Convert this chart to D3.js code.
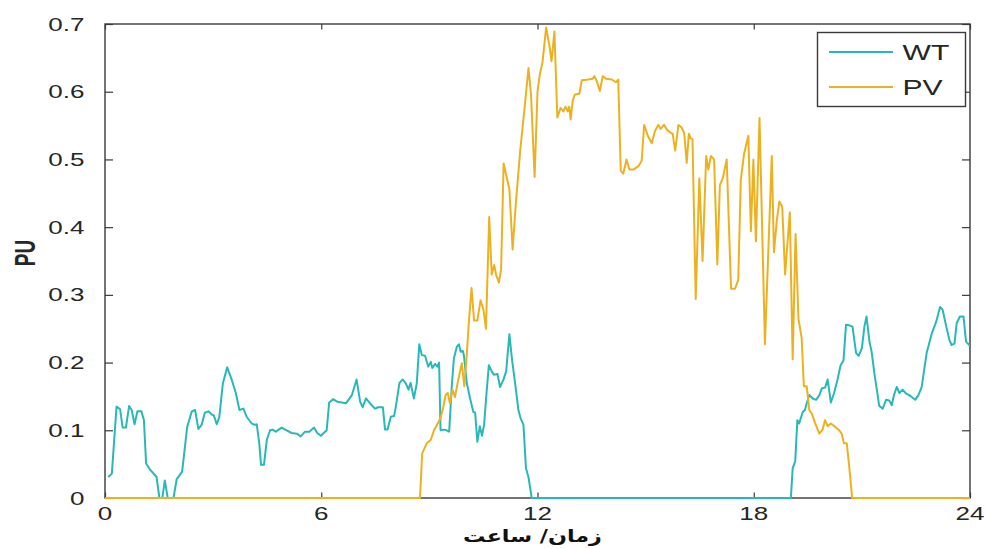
<!DOCTYPE html>
<html>
<head>
<meta charset="utf-8">
<script src="https://cdn.jsdelivr.net/npm/d3@7"></script>
<style>
  html, body { margin: 0; padding: 0; background: #fff; }
  svg { display: block; }
  text { fill: #262626; font-family: "Liberation Sans", Arial, sans-serif; }
</style>
</head>
<body>
<svg id="chart" width="986" height="549"></svg>
<script>
// Wind turbine (WT) output, per unit, over the day
const wtHours = [0.09,0.19,0.32,0.42,0.49,0.58,0.67,0.74,0.82,0.90,1.01,1.08,1.14,1.25,1.43,1.51,1.59,1.66,1.74,1.90,
  1.99,2.14,2.28,2.41,2.50,2.59,2.68,2.77,2.87,2.97,3.02,3.10,3.17,3.27,3.39,3.52,3.63,3.73,3.84,3.93,
  4.07,4.16,4.21,4.28,4.33,4.41,4.49,4.58,4.65,4.74,4.90,5.04,5.18,5.32,5.43,5.55,5.67,5.80,5.89,5.99,
  6.15,6.22,6.33,6.45,6.69,6.85,6.98,7.08,7.15,7.24,7.35,7.49,7.58,7.71,7.77,7.84,7.93,8.02,8.07,8.17,
  8.26,8.35,8.42,8.48,8.57,8.65,8.72,8.79,8.88,8.97,9.04,9.08,9.16,9.22,9.27,9.31,9.39,9.48,9.55,9.62,
  9.68,9.76,9.82,9.87,9.93,9.96,10.04,10.13,10.22,10.27,10.33,10.40,10.46,10.52,10.57,10.65,10.73,10.79,10.89,10.96,
  11.05,11.13,11.22,11.29,11.38,11.47,11.53,11.61,11.68,11.75,11.84,19.03,19.08,19.15,19.21,19.26,19.30,19.36,19.42,19.47,
  19.54,19.64,19.73,19.82,19.89,19.98,20.05,20.14,20.23,20.32,20.41,20.49,20.56,20.65,20.74,20.84,20.91,21.00,21.07,21.13,
  21.21,21.27,21.36,21.43,21.48,21.58,21.67,21.76,21.83,21.89,21.97,22.04,22.13,22.23,22.34,22.48,22.57,22.66,22.80,22.94,
  23.06,23.17,23.24,23.33,23.43,23.49,23.57,23.63,23.72,23.82,23.89,23.98,24.0];
const wtValues = [0.031,0.036,0.135,0.131,0.104,0.104,0.136,0.130,0.109,0.128,0.128,0.115,0.051,0.042,0.031,0,0,0.026,0,0,
  0.028,0.039,0.105,0.128,0.130,0.102,0.108,0.126,0.128,0.123,0.122,0.109,0.119,0.169,0.193,0.174,0.155,0.130,0.132,0.120,
  0.110,0.108,0.109,0.081,0.049,0.049,0.086,0.100,0.101,0.098,0.104,0.100,0.096,0.095,0.091,0.098,0.098,0.104,0.096,0.092,
  0.100,0.141,0.146,0.142,0.140,0.152,0.175,0.142,0.134,0.147,0.140,0.132,0.134,0.134,0.101,0.101,0.120,0.121,0.135,0.170,
  0.175,0.169,0.160,0.170,0.147,0.169,0.227,0.211,0.210,0.194,0.201,0.192,0.198,0.194,0.200,0.100,0.101,0.100,0.098,0.164,
  0.206,0.223,0.227,0.216,0.217,0.210,0.169,0.147,0.127,0.126,0.083,0.106,0.092,0.109,0.145,0.196,0.187,0.182,0.183,0.164,
  0.174,0.187,0.242,0.206,0.169,0.130,0.118,0.108,0.044,0.031,0,0,0.044,0.054,0.115,0.110,0.117,0.127,0.130,0.140,
  0.152,0.147,0.145,0.152,0.162,0.163,0.175,0.141,0.155,0.174,0.196,0.203,0.256,0.255,0.253,0.214,0.210,0.221,0.253,0.268,
  0.231,0.216,0.179,0.155,0.136,0.132,0.145,0.144,0.137,0.152,0.164,0.155,0.160,0.154,0.151,0.145,0.152,0.164,0.215,0.243,
  0.260,0.282,0.278,0.256,0.233,0.226,0.228,0.258,0.268,0.268,0.231,0.226,0.226];

// Photovoltaic (PV) output, per unit, over the day
const pvHours = [0,8.74,8.80,8.93,9.04,9.13,9.22,9.31,9.39,9.45,9.51,9.57,9.64,9.71,9.78,9.85,9.90,9.97,10.04,10.10,
  10.17,10.24,10.33,10.42,10.50,10.57,10.66,10.73,10.80,10.85,10.93,10.99,11.06,11.22,11.31,11.40,11.52,11.63,11.75,11.82,
  11.92,12.00,12.07,12.14,12.24,12.33,12.39,12.47,12.55,12.64,12.72,12.78,12.84,12.88,12.92,12.98,13.04,13.16,13.23,13.41,
  13.53,13.58,13.64,13.73,13.81,13.90,14.06,14.18,14.24,14.31,14.38,14.47,14.55,14.66,14.80,14.89,14.96,15.06,15.17,15.26,
  15.35,15.42,15.51,15.59,15.70,15.75,15.82,15.91,16.00,16.07,16.14,16.20,16.25,16.30,16.39,16.49,16.58,16.68,16.74,16.81,
  16.90,16.99,17.06,17.14,17.25,17.37,17.48,17.57,17.64,17.73,17.85,17.92,17.99,18.06,18.16,18.31,18.50,18.56,18.64,18.71,
  18.79,18.87,19.00,19.08,19.16,19.24,19.33,19.39,19.47,19.54,19.61,19.70,19.82,19.91,19.98,20.05,20.14,20.26,20.37,20.44,
  20.50,20.58,20.65,20.73,24.0];
const pvValues = [0,0,0.066,0.081,0.086,0.100,0.109,0.118,0.135,0.152,0.155,0.140,0.160,0.149,0.169,0.187,0.199,0.165,0.214,0.263,
  0.310,0.262,0.262,0.292,0.278,0.250,0.415,0.330,0.344,0.330,0.318,0.338,0.494,0.456,0.367,0.436,0.513,0.570,0.635,0.596,
  0.474,0.600,0.627,0.644,0.695,0.668,0.645,0.689,0.562,0.576,0.571,0.578,0.571,0.578,0.559,0.588,0.596,0.597,0.617,0.618,
  0.619,0.623,0.616,0.601,0.623,0.619,0.618,0.614,0.618,0.483,0.479,0.500,0.485,0.485,0.490,0.498,0.551,0.535,0.524,0.542,
  0.551,0.545,0.551,0.544,0.539,0.538,0.513,0.551,0.547,0.539,0.495,0.538,0.531,0.530,0.294,0.472,0.350,0.505,0.485,0.505,
  0.500,0.345,0.462,0.472,0.500,0.309,0.309,0.322,0.469,0.508,0.535,0.394,0.500,0.379,0.561,0.227,0.505,0.363,0.410,0.438,
  0.430,0.330,0.422,0.205,0.390,0.265,0.236,0.165,0.165,0.130,0.125,0.111,0.095,0.101,0.115,0.106,0.110,0.105,0.100,0.095,
  0.081,0.081,0.046,0,0];

const xTicks = [0, 6, 12, 18, 24];
const yTicks = [0, 0.1, 0.2, 0.3, 0.4, 0.5, 0.6, 0.7];
const yTickLabels = ["0", "0.1", "0.2", "0.3", "0.4", "0.5", "0.6", "0.7"];
const seriesNames = ["WT", "PV"];
const seriesColors = ["#29b8b8", "#edb120"];
const xTitle = "زمان/ ساعت";
const yTitle = "PU";

const svg = d3.select("#chart");
const plotLeft = 105, plotRight = 970, plotTop = 24, plotBottom = 498;
const x = d3.scaleLinear().domain([0, 24]).range([plotLeft, plotRight]);
const y = d3.scaleLinear().domain([0, 0.7]).range([plotBottom, plotTop]);
const axisColor = "#3a3a3a";
const stretch = 1.4; // text is drawn wide, as in the exported figure

// frame
svg.append("rect")
  .attr("x", plotLeft).attr("y", plotTop)
  .attr("width", plotRight - plotLeft).attr("height", plotBottom - plotTop)
  .attr("fill", "none").attr("stroke", axisColor).attr("stroke-width", 1.4);

// inward ticks on all four sides
function tickAxis(gen, tx, ty) {
  const g = svg.append("g").attr("transform", `translate(${tx},${ty})`).call(gen);
  g.select(".domain").remove();
  g.selectAll(".tick line").attr("stroke", axisColor).attr("stroke-width", 1.2);
  g.selectAll(".tick text").remove();
  return g;
}
tickAxis(d3.axisBottom(x).tickValues(xTicks).tickSize(-5.5), 0, plotBottom);
tickAxis(d3.axisTop(x).tickValues(xTicks).tickSize(-5.5), 0, plotTop);
tickAxis(d3.axisLeft(y).tickValues(yTicks).tickSize(-8), plotLeft, 0);
tickAxis(d3.axisRight(y).tickValues(yTicks).tickSize(-8), plotRight, 0);

// tick labels
const fs = 18.6;
svg.append("g").selectAll("text").data(xTicks).join("text")
  .attr("transform", d => `translate(${x(d)},520) scale(${stretch},1)`)
  .attr("text-anchor", "middle")
  .style("font-size", fs + "px")
  .text(d => d);
svg.append("g").selectAll("text").data(yTicks).join("text")
  .attr("transform", d => `translate(84.5,${y(d) + 6.6}) scale(${stretch},1)`)
  .attr("text-anchor", "end")
  .style("font-size", fs + "px")
  .text((d, i) => yTickLabels[i]);

// axis titles
svg.append("text")
  .attr("transform", `translate(24,253) scale(1.55,1) rotate(-90)`)
  .attr("text-anchor", "middle")
  .attr("dy", "0.36em")
  .style("font-size", "19px").style("font-weight", "bold")
  .text(yTitle);

const xt = svg.append("text")
  .attr("text-anchor", "middle")
  .attr("direction", "rtl")
  .style("font-family", "'DejaVu Sans', sans-serif")
  .style("font-size", "17px").style("font-weight", "bold")
  .style("fill", "#111")
  .text(xTitle);
const xtLen = xt.node().getComputedTextLength();
xt.attr("transform", `translate(532.5,542) scale(${139 / xtLen},1)`);

// series lines
const line = d3.line().x(d => x(d[0])).y(d => y(d[1]));
const series = [
  d3.zip(wtHours, wtValues),
  d3.zip(pvHours, pvValues)
];
series.forEach((pts, i) => {
  svg.append("path")
    .datum(pts)
    .attr("d", line)
    .attr("fill", "none")
    .attr("stroke", seriesColors[i])
    .attr("stroke-width", 2)
    .attr("stroke-linejoin", "round");
});

// legend
const lg = svg.append("g");
lg.append("rect")
  .attr("x", 817.5).attr("y", 32.5).attr("width", 148).attr("height", 74)
  .attr("fill", "#fff").attr("stroke", axisColor).attr("stroke-width", 1.4);
seriesNames.forEach((name, i) => {
  const ly = 52 + i * 35;
  lg.append("line")
    .attr("x1", 829).attr("x2", 893).attr("y1", ly).attr("y2", ly)
    .attr("stroke", seriesColors[i]).attr("stroke-width", 2);
  lg.append("text")
    .attr("transform", `translate(902.5,${ly + 8}) scale(${stretch},1)`)
    .style("font-size", "21.5px")
    .text(name);
});
</script>
</body>
</html>
